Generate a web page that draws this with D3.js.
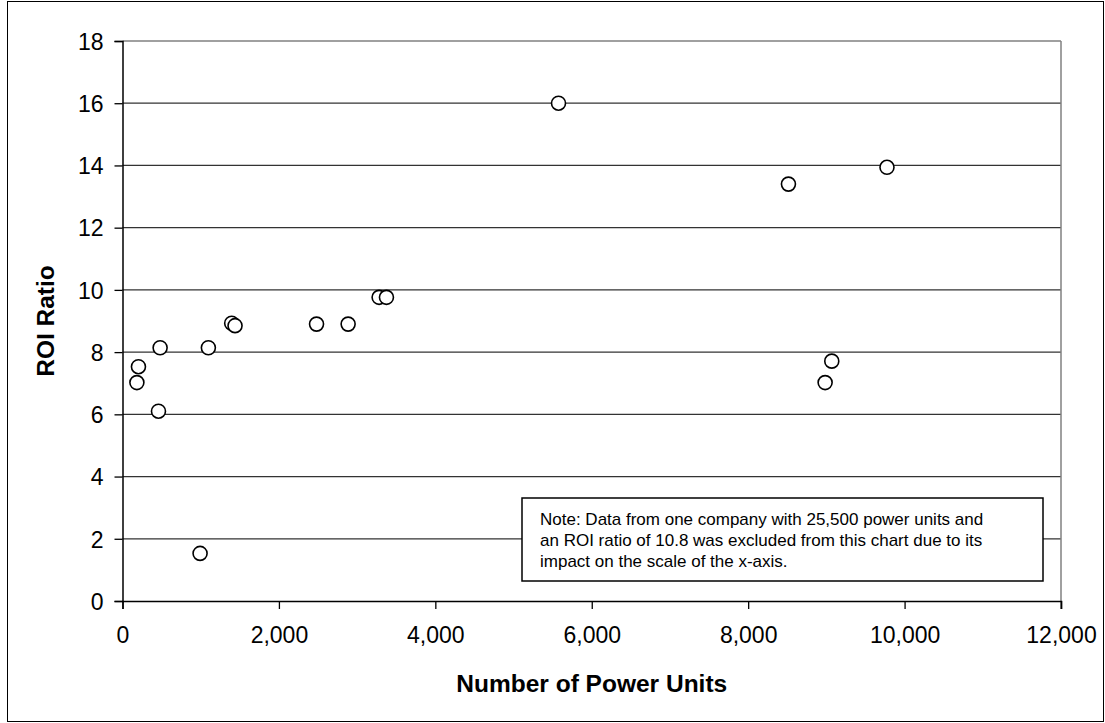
<!DOCTYPE html>
<html>
<head>
<meta charset="utf-8">
<script src="https://cdn.jsdelivr.net/npm/d3@7"></script>
<style>
  body { margin: 0; background: #fff; }
  svg { display: block; font-family: "Liberation Sans", Arial, sans-serif; }
</style>
</head>
<body>
<div class="roi-plot"></div>
<script>
// values
const powerUnits = [184, 204, 460, 481, 992, 1098, 1396, 1439, 2481, 2885, 3281, 3375, 5575, 8515, 8984, 9069, 9775];
const roiRatio   = [7.02, 7.53, 6.10, 8.14, 1.53, 8.14, 8.93, 8.85, 8.90, 8.90, 9.76, 9.76, 16.0, 13.40, 7.02, 7.71, 13.94];
const xTicks = [0, 2000, 4000, 6000, 8000, 10000, 12000];
const yTicks = [0, 2, 4, 6, 8, 10, 12, 14, 16, 18];
const noteLines = [
  "Note: Data from one company with 25,500 power units and",
  "an ROI ratio of 10.8 was excluded from this chart due to its",
  "impact on the scale of the x-axis."
];

const data = powerUnits.map((d, i) => ({units: d, roi: roiRatio[i]}));

const width = 1105;
const height = 723;
const svg = d3.select('.roi-plot').append('svg')
  .attr('width', width)
  .attr('height', height);

// chart border
svg.append('rect')
  .attr('x', 7.5).attr('y', 1.5)
  .attr('width', width - 9).attr('height', height - 3)
  .attr('fill', 'none')
  .attr('stroke', '#000')
  .attr('stroke-width', 1);

const x = d3.scaleLinear()
  .domain([0, 12000])
  .range([122.5, 1061]);

const y = d3.scaleLinear()
  .domain([0, 18])
  .range([601, 41]);

// gridlines
svg.append('g')
  .selectAll('line')
  .data(yTicks.filter(d => d > 0))
  .enter()
  .append('line')
  .attr('x1', x(0))
  .attr('x2', x(12000))
  .attr('y1', d => y(d))
  .attr('y2', d => y(d))
  .attr('stroke', d => d == 18 ? '#808080' : '#333')
  .attr('stroke-width', 1.3);

// right border of plot
svg.append('line')
  .attr('x1', x(12000)).attr('x2', x(12000))
  .attr('y1', y(18)).attr('y2', y(0) + 8)
  .attr('stroke', '#808080')
  .attr('stroke-width', 1.5);

const xAxis = svg.append('g')
  .attr('transform', `translate(0,${y(0)})`)
  .call(d3.axisBottom(x).tickValues(xTicks).tickSize(8).tickPadding(18)
    .tickFormat(d3.format(',')));

const yAxis = svg.append('g')
  .attr('transform', `translate(${x(0)},0)`)
  .call(d3.axisLeft(y).tickValues(yTicks).tickSize(8).tickPadding(11));

[xAxis, yAxis].forEach(g => {
  g.selectAll('.domain').attr('stroke', '#000').attr('stroke-width', 1.5);
  g.selectAll('.tick line').attr('stroke', '#000').attr('stroke-width', 1.3);
  g.selectAll('text')
    .attr('font-family', '"Liberation Sans", Arial, sans-serif')
    .attr('font-size', '23px')
    .attr('fill', '#000');
});
yAxis.selectAll('text').attr('dy', '0.36em');

// note box
const note = svg.append('g');
note.append('rect')
  .attr('x', 522).attr('y', 498)
  .attr('width', 521).attr('height', 83)
  .attr('fill', '#fff')
  .attr('stroke', '#000')
  .attr('stroke-width', 1.5);
note.selectAll('text')
  .data(noteLines)
  .enter()
  .append('text')
  .text(d => d)
  .attr('x', 540)
  .attr('y', (d, i) => 525 + i * 21)
  .attr('font-size', '17px')
  .attr('fill', '#000');

// points
svg.selectAll('circle')
  .data(data)
  .enter()
  .append('circle')
  .attr('cx', d => x(d.units))
  .attr('cy', d => y(d.roi))
  .attr('r', 7)
  .attr('fill', '#fff')
  .attr('stroke', '#000')
  .attr('stroke-width', 1.6);

// axis titles
svg.append('text')
  .text('Number of Power Units')
  .attr('x', (x(0) + x(12000)) / 2)
  .attr('y', 692)
  .attr('text-anchor', 'middle')
  .attr('font-size', '24.5px')
  .style('font-weight', 'bold');

svg.append('text')
  .text('ROI Ratio')
  .attr('transform', `translate(54,${(y(0) + y(18)) / 2}) rotate(-90)`)
  .attr('text-anchor', 'middle')
  .attr('font-size', '24.5px')
  .style('font-weight', 'bold');
</script>
</body>
</html>
